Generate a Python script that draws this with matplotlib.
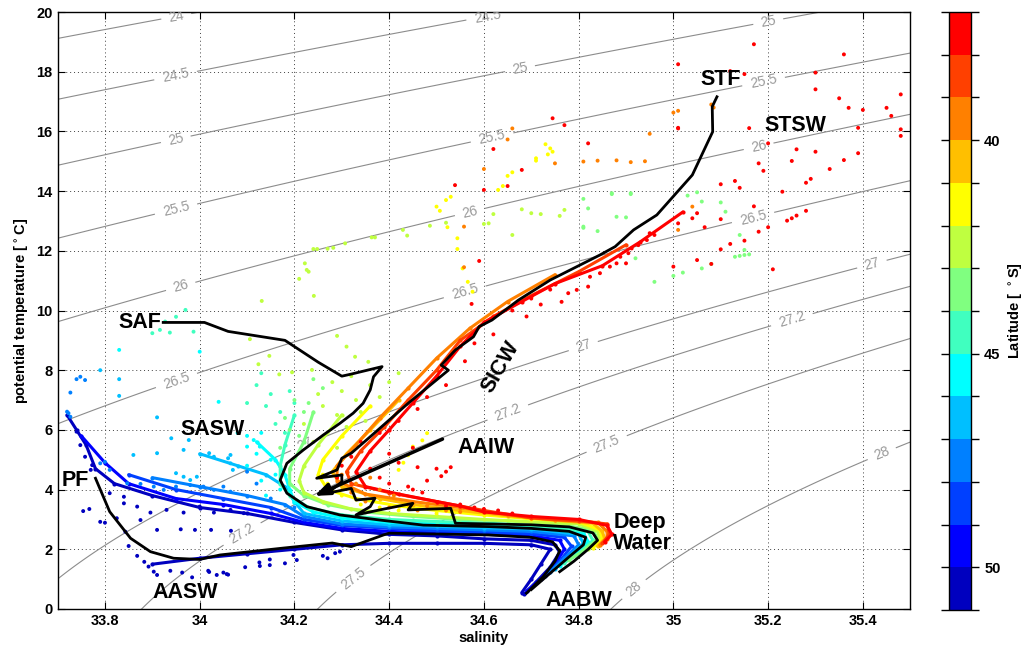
import numpy as np
import matplotlib
matplotlib.use('Agg')
import matplotlib.pyplot as plt
from matplotlib.colors import ListedColormap, BoundaryNorm

plt.rcParams['font.family'] = ['Liberation Sans', 'DejaVu Sans']
plt.rcParams['font.weight'] = 'bold'

# latitude colour bands (37..51 S), red = north, dark blue = south
lat_edges = np.arange(37, 52)
band_colors = ['#ff0000', '#ff4000', '#ff8000', '#ffbf00', '#ffff00', '#bfff40',
               '#80ff80', '#40ffbf', '#00ffff', '#00bfff', '#0080ff', '#0040ff',
               '#0000ff', '#0000bf']

# CTD profiles, one per latitude band (salinity, potential temperature)
profile_lat = [50.5, 50.5, 49.5, 48.5, 47.5, 46.5, 45.5, 44.5, 43.5, 42.5, 41.5, 40.5, 39.5, 38.5, 37.5]
profile_S = [
    [33.72, 33.74, 33.76, 33.78, 33.82, 33.9, 34.0, 34.1, 34.2, 34.3, 34.4, 34.5, 34.6, 34.7, 34.75, 34.76, 34.74, 34.71, 34.685],
    [33.9, 34.0, 34.1, 34.2, 34.3, 34.4, 34.5, 34.6, 34.7, 34.74, 34.72, 34.70, 34.68],
    [33.75, 33.8, 33.85, 33.95, 34.05, 34.15, 34.22, 34.3, 34.4, 34.5, 34.6, 34.7, 34.76, 34.77, 34.75, 34.72, 34.69],
    [33.85, 33.95, 34.05, 34.15, 34.22, 34.3, 34.4, 34.5, 34.6, 34.7, 34.77, 34.785, 34.76, 34.73],
    [33.9, 34.0, 34.1, 34.18, 34.22, 34.3, 34.4, 34.5, 34.6, 34.7, 34.79, 34.80, 34.77, 34.74],
    [34.0, 34.08, 34.14, 34.18, 34.2, 34.22, 34.3, 34.4, 34.5, 34.6, 34.7, 34.8, 34.81, 34.78, 34.75],
    [34.12, 34.16, 34.18, 34.19, 34.2, 34.24, 34.3, 34.4, 34.5, 34.6, 34.7, 34.81, 34.82, 34.79, 34.76],
    [34.2, 34.18, 34.17, 34.17, 34.19, 34.23, 34.3, 34.4, 34.5, 34.6, 34.7, 34.82, 34.83, 34.8, 34.77],
    [34.24, 34.22, 34.19, 34.19, 34.22, 34.27, 34.35, 34.45, 34.55, 34.65, 34.75, 34.83, 34.84, 34.81, 34.78],
    [34.3, 34.25, 34.22, 34.21, 34.22, 34.26, 34.32, 34.4, 34.5, 34.6, 34.7, 34.8, 34.84, 34.845, 34.82],
    [34.36, 34.3, 34.26, 34.25, 34.27, 34.33, 34.42, 34.5, 34.6, 34.7, 34.8, 34.845, 34.85, 34.83],
    [34.42, 34.36, 34.31, 34.28, 34.3, 34.38, 34.45, 34.55, 34.65, 34.75, 34.83, 34.85, 34.855, 34.84],
    [34.75, 34.65, 34.57, 34.5, 34.44, 34.38, 34.33, 34.29, 34.29, 34.35, 34.45, 34.55, 34.65, 34.75, 34.84, 34.86, 34.86, 34.845],
    [34.9, 34.8, 34.7, 34.62, 34.55, 34.5, 34.44, 34.39, 34.34, 34.31, 34.32, 34.4, 34.5, 34.6, 34.7, 34.8, 34.86, 34.865, 34.85],
    [35.02, 34.93, 34.85, 34.75, 34.68, 34.6, 34.55, 34.5, 34.45, 34.4, 34.36, 34.33, 34.35, 34.42, 34.5, 34.55, 34.6, 34.7, 34.8, 34.86, 34.87, 34.855],
]
profile_T = [
    [6.5, 6.0, 5.5, 4.7, 4.2, 3.8, 3.4, 3.2, 2.9, 2.65, 2.5, 2.45, 2.35, 2.3, 2.15, 1.9, 1.4, 0.9, 0.5],
    [1.5, 1.7, 1.85, 2.0, 2.15, 2.2, 2.2, 2.2, 2.15, 2.0, 1.5, 1.0, 0.55],
    [5.8, 4.9, 4.2, 3.7, 3.5, 3.2, 2.9, 2.7, 2.6, 2.55, 2.5, 2.45, 2.3, 2.0, 1.5, 1.0, 0.6],
    [4.5, 4.0, 3.7, 3.4, 3.0, 2.8, 2.7, 2.62, 2.58, 2.52, 2.4, 2.1, 1.6, 1.1],
    [4.4, 4.1, 3.8, 3.5, 3.1, 2.85, 2.75, 2.7, 2.65, 2.6, 2.45, 2.15, 1.7, 1.25],
    [5.2, 4.8, 4.5, 4.1, 3.6, 3.2, 2.95, 2.82, 2.77, 2.72, 2.68, 2.5, 2.2, 1.75, 1.35],
    [5.6, 5.0, 4.5, 4.0, 3.6, 3.25, 3.05, 2.9, 2.85, 2.8, 2.74, 2.55, 2.25, 1.8, 1.45],
    [6.5, 5.5, 4.8, 4.2, 3.8, 3.4, 3.15, 3.0, 2.93, 2.88, 2.8, 2.6, 2.3, 1.85, 1.55],
    [6.6, 5.6, 4.7, 4.2, 3.8, 3.5, 3.25, 3.1, 3.0, 2.95, 2.85, 2.65, 2.35, 1.95, 1.65],
    [6.5, 5.5, 4.8, 4.3, 3.9, 3.6, 3.35, 3.2, 3.1, 3.0, 2.92, 2.85, 2.6, 2.35, 2.0],
    [6.8, 5.8, 5.0, 4.5, 4.0, 3.7, 3.45, 3.3, 3.15, 3.02, 2.92, 2.65, 2.35, 2.05],
    [7.0, 6.0, 5.2, 4.6, 4.1, 3.7, 3.5, 3.3, 3.12, 2.97, 2.87, 2.6, 2.35, 2.1],
    [11.2, 10.3, 9.4, 8.4, 7.4, 6.4, 5.5, 4.8, 4.3, 3.85, 3.6, 3.4, 3.15, 2.98, 2.9, 2.6, 2.35, 2.15],
    [12.2, 11.3, 10.5, 9.8, 9.0, 8.0, 7.0, 6.1, 5.3, 4.6, 4.2, 3.9, 3.6, 3.3, 3.05, 2.95, 2.85, 2.5, 2.2],
    [13.3, 12.3, 11.5, 10.9, 10.3, 9.6, 8.8, 7.8, 6.9, 6.0, 5.3, 4.6, 4.1, 3.85, 3.6, 3.45, 3.25, 3.1, 3.0, 2.8, 2.5, 2.25],
]

# scattered single observations, grouped by latitude band
dblue_S = [33.868, 33.883, 33.892, 33.903, 33.91, 33.938, 33.963, 33.984, 34.02, 34.036, 34.05, 34.06,
           34.018, 34.057, 34.096, 34.127, 34.148, 34.18, 34.205, 34.26, 34.27, 34.286, 34.296, 34.198,
           34.148, 34.126, 33.85, 33.843, 33.79, 33.80, 33.754, 33.767, 33.91, 33.96, 33.99, 34.024, 34.066,
           33.81, 33.84, 33.868, 33.896, 33.93, 33.966, 34.0, 34.03, 34.065, 34.093, 33.825, 33.875, 33.84,
           33.77, 33.773, 33.758, 33.748, 33.74]
dblue_T = [1.78, 1.58, 1.42, 1.25, 1.14, 1.28, 1.22, 1.06, 1.24, 1.14, 1.22, 1.15,
           1.28, 1.17, 1.40, 1.44, 1.47, 1.53, 1.64, 1.78, 1.70, 1.87, 1.92, 1.81,
           1.66, 1.56, 2.11, 2.59, 2.92, 2.89, 3.28, 3.35, 2.65, 2.67, 2.65, 2.65, 2.62,
           3.88, 3.54, 3.43, 3.23, 3.32, 3.23, 3.43, 3.23, 3.32, 3.21, 3.04, 2.98, 3.76,
           4.66, 4.82, 5.1, 5.49, 5.94]
mblue_S = [33.74, 33.748, 33.758, 33.727, 33.727, 33.723, 33.72, 33.80, 33.79, 33.81, 33.847, 33.875,
           33.903, 33.924, 33.95, 33.98, 34.008, 34.03, 34.05, 34.065, 34.1, 34.12, 34.15, 34.2]
mblue_T = [7.70, 7.78, 7.67, 7.25, 6.44, 6.56, 6.61, 4.93, 4.88, 4.66, 4.21, 4.19,
           4.10, 3.99, 4.10, 4.15, 4.10, 3.99, 4.10, 3.93, 4.6, 4.2, 3.7, 3.4]
lblue_S = [33.79, 33.83, 33.83, 33.91, 33.94, 33.977, 33.966, 33.91, 33.86, 34.02, 34.03, 34.06, 34.065,
           34.07, 34.065, 33.95, 33.966, 33.98, 33.994]
lblue_T = [8.0, 7.70, 7.14, 6.42, 5.72, 5.66, 5.33, 5.22, 5.16, 5.22, 5.10, 5.05, 4.88,
           4.66, 5.16, 4.55, 4.43, 4.32, 4.43]
cyan_S = [33.83, 34.04, 34.10, 34.114, 34.127, 34.0, 34.10, 34.13, 34.08, 34.12, 34.15, 34.1, 34.16,
          34.13, 34.17, 34.14]
cyan_T = [8.68, 6.94, 5.44, 5.66, 5.44, 8.62, 5.8, 5.9, 5.9, 5.2, 5.0, 4.8, 4.5,
          4.3, 4.0, 3.8]
aqua_S = [33.9, 33.916, 33.937, 33.987, 33.97, 33.95, 33.927, 34.12, 34.15, 34.14, 34.17, 34.10, 34.16,
          34.13, 34.19, 34.18, 34.2]
aqua_T = [9.24, 9.35, 9.26, 9.29, 10.02, 9.79, 9.63, 7.5, 7.2, 6.8, 6.6, 6.9, 6.2,
          7.9, 7.3, 5.9, 6.9]
lgreen_S = [35.05, 35.06, 35.03, 35.10, 35.11, 35.08, 35.06, 35.02, 35.0, 35.14, 35.15, 34.91, 34.87, 34.81,
            34.84, 34.81, 34.96, 34.92, 34.82, 34.87, 34.91, 34.88, 34.90, 34.81, 35.13, 35.14, 35.15, 35.16,
            34.20, 34.22, 34.19, 34.23, 34.26, 34.18, 34.21, 34.17, 34.24]
lgreen_T = [13.96, 13.65, 13.85, 13.62, 13.31, 11.56, 11.41, 11.27, 11.16, 12.53, 12.03, 13.93, 13.93, 13.74,
            12.66, 12.77, 10.96, 11.75, 13.42, 13.9, 13.9, 13.14, 13.12, 12.81, 11.8, 11.83, 11.86, 11.88,
            7.0, 6.6, 6.0, 6.9, 7.4, 6.4, 5.8, 5.4, 7.7]
ygreen_S = [34.77, 34.76, 34.72, 34.70, 34.62, 34.61, 34.60, 34.68, 34.66, 34.222, 34.226, 34.23, 34.21,
            34.241, 34.131, 34.24, 34.248, 34.27, 34.282, 34.307, 34.363, 34.37, 34.429, 34.438, 34.486,
            34.52, 34.29, 34.31, 34.328, 34.356, 34.124, 34.147, 34.168, 34.195, 34.237, 34.106,
            34.28, 34.30, 34.33, 34.26, 34.29, 34.34, 34.31, 34.27, 34.24, 34.36, 34.38, 34.35, 34.22, 34.25,
            34.32, 34.4, 34.42, 34.29]
ygreen_T = [13.37, 13.17, 13.23, 13.26, 13.23, 12.92, 12.9, 13.39, 12.53, 11.58, 11.36, 11.3, 11.06,
            10.49, 10.32, 12.06, 12.06, 12.07, 12.1, 12.25, 12.45, 12.45, 12.7, 12.51, 12.84,
            12.94, 9.15, 8.79, 8.45, 8.28, 8.20, 8.48, 7.86, 7.93, 8.01, 9.04,
            7.6, 7.3, 7.0, 6.8, 6.5, 6.6, 6.1, 5.9, 5.6, 7.5, 7.1, 6.3, 6.2, 7.2,
            7.8, 7.6, 7.9, 5.4]
yellow_S = [34.50, 34.507, 34.52, 34.523, 34.544, 34.544, 34.555, 34.566, 34.576, 34.53, 34.73, 34.74,
            34.745, 34.735, 34.71, 34.71, 34.66, 34.65, 34.64, 34.63, 34.42, 34.43, 34.44, 34.45, 34.47, 34.48,
            34.3, 34.34, 34.38, 34.27, 34.26, 34.42, 34.5]
yellow_T = [13.48, 13.34, 13.7, 12.79, 12.42, 12.06, 11.41, 10.96, 10.63, 13.81, 15.57, 15.43,
            15.32, 15.23, 15.1, 15.02, 14.63, 14.51, 14.17, 14.04, 4.66, 4.9, 5.15, 5.44, 5.65, 5.89,
            3.8, 3.5, 3.4, 4.2, 4.5, 3.3, 3.2]
orange_S = [34.81, 34.84, 34.88, 34.91, 34.94, 34.95, 35.0, 35.01, 34.66, 34.65, 34.75, 34.60, 34.558,
            34.558, 35.04, 35.01, 35.08, 35.085,
            34.30, 34.33, 34.36, 34.32, 34.38, 34.41, 34.35, 34.44, 34.48, 34.52, 34.55, 34.40, 34.46]
orange_T = [14.99, 15.02, 15.03, 14.97, 15.0, 15.92, 16.63, 16.69, 16.1, 15.73, 14.93, 14.74, 12.81,
            11.45, 13.48, 12.7, 16.9, 16.8,
            4.5, 4.2, 4.4, 3.9, 4.0, 3.8, 3.6, 3.5, 3.45, 3.3, 3.25, 3.4, 3.3]
red_S = [35.17, 35.36, 35.30, 35.12, 35.15, 35.30, 35.35, 35.37, 35.40, 35.45, 35.48, 35.46, 35.48, 35.48,
         35.39, 35.16, 35.20, 35.26, 35.30, 35.36, 35.39, 35.33, 35.18, 35.19, 35.29, 35.28, 35.23, 35.13,
         35.10, 35.14, 35.17, 35.24, 35.25, 35.26, 35.28, 35.20, 35.18, 35.01, 35.01, 35.10, 35.12, 35.15,
         35.10, 35.08, 35.05, 35.00, 35.21, 35.25,
         35.01, 34.745, 34.77, 34.62, 34.82, 34.68, 34.65, 34.60, 34.539, 34.59, 34.574,
         34.888, 34.905, 34.912, 34.926, 34.944, 34.95, 34.96, 34.90, 34.88, 34.866, 34.845, 34.824, 34.82,
         34.796, 34.778, 34.764, 35.05, 35.04, 35.01, 35.066,
         34.50, 34.52, 34.51, 34.48, 34.46, 34.44, 34.42, 34.40, 34.38, 34.45, 34.47, 34.53,
         34.30, 34.32, 34.29, 34.36, 34.40, 34.45, 34.55, 34.58, 34.60, 34.63, 34.66, 34.52, 34.34, 34.38,
         34.42, 34.46, 34.48, 34.52, 34.56, 34.58, 34.62, 34.66, 34.70, 34.72, 34.74, 34.69]
red_T = [18.92, 18.58, 17.97, 18.02, 17.92, 17.41, 17.11, 16.79, 16.72, 16.79, 17.24, 16.52, 16.07, 15.85,
         16.12, 16.11, 15.60, 15.40, 15.32, 15.04, 15.27, 14.74, 14.93, 14.68, 14.41, 14.28, 13.98, 14.34,
         14.23, 14.11, 13.49, 13.01, 13.09, 13.18, 13.34, 12.79, 12.64, 18.25, 16.12, 13.06, 12.23, 12.34,
         12.05, 11.56, 11.69, 11.47, 11.38, 15.01,
         16.1, 16.44, 16.21, 15.41, 15.6, 14.71, 14.17, 14.04, 14.2, 11.66, 10.22,
         11.8, 11.92, 12.08, 12.19, 12.36, 12.59, 12.53, 11.58, 11.58, 11.47, 11.25, 11.13, 10.8,
         10.69, 10.58, 10.29, 13.26, 13.09, 12.92, 12.79,
         4.7, 4.6, 4.45, 4.3, 4.75, 4.1, 4.9, 5.2, 4.4, 5.4, 3.9, 4.75,
         4.8, 5.1, 4.4, 4.7, 4.2, 4.0, 3.5, 3.4, 3.35, 3.3, 3.2, 3.45, 5.6, 5.9,
         6.3, 6.7, 7.1, 7.5, 8.3, 8.9, 9.2, 10.0, 10.4, 10.2, 10.7, 9.8]

# front profiles (black lines)
stf_S = [35.092, 35.082, 35.083, 35.04, 34.965, 34.916, 34.877, 34.845, 34.74, 34.673, 34.617, 34.59,
         34.578, 34.54, 34.51, 34.525, 34.44, 34.40, 34.36, 34.32, 34.30, 34.29, 34.247, 34.30, 34.30,
         34.27, 34.32, 34.33, 34.37, 34.36, 34.33, 34.38, 34.45, 34.44, 34.53, 34.54, 34.61, 34.70, 34.78,
         34.83, 34.84, 34.82, 34.79, 34.76]
stf_T = [17.16, 16.83, 15.99, 14.54, 13.2, 12.7, 12.14, 11.86, 11.02, 10.35, 9.68, 9.46,
         9.12, 8.68, 8.17, 8.0, 6.89, 6.33, 5.77, 5.22, 5.05, 4.66, 4.38, 4.49, 4.26,
         3.88, 4.04, 3.65, 3.71, 3.43, 3.15, 3.32, 3.54, 3.32, 3.37, 2.87, 2.85, 2.82, 2.75,
         2.55, 2.3, 2.0, 1.6, 1.25]
saf_S = [33.923, 34.01, 34.06, 34.18, 34.25, 34.30, 34.32, 34.385, 34.367, 34.36, 34.345, 34.324, 34.296,
         34.261, 34.219, 34.184, 34.17, 34.184, 34.226, 34.296, 34.38, 34.472, 34.61, 34.70, 34.78, 34.815,
         34.81, 34.78, 34.74, 34.70]
saf_T = [9.6, 9.6, 9.3, 9.0, 8.27, 7.8, 7.87, 8.12, 7.78, 7.34, 6.89, 6.56, 6.22,
         5.83, 5.33, 4.88, 4.32, 3.88, 3.43, 3.15, 2.98, 2.81, 2.76, 2.7, 2.6, 2.4,
         2.15, 1.75, 1.2, 0.65]
pf_S = [33.78, 33.81, 33.854, 33.896, 33.945, 34.0, 34.043, 34.176, 34.28, 34.32, 34.388, 34.40, 34.61,
        34.70, 34.745, 34.76, 34.75, 34.725, 34.69]
pf_T = [4.38, 3.26, 2.37, 1.92, 1.70, 1.66, 1.81, 2.04, 2.21, 2.09, 2.48, 2.54, 2.48,
        2.4, 2.25, 1.95, 1.6, 1.08, 0.53]

density_levels = [24, 24.5, 25, 25.5, 26, 26.5, 27, 27.2, 27.5, 28]
label_pos = [(33.95, 19.9), (33.95, 17.8), (34.61, 19.7), (33.95, 15.7), (34.68, 17.8), (35.2, 19.7),
             (33.95, 13.4), (34.62, 15.6), (35.19, 17.7), (33.96, 10.8), (34.57, 13.3), (35.18, 15.5),
             (33.95, 7.7), (34.56, 10.6), (35.17, 13.0), (34.22, 5.6), (34.81, 8.8), (35.42, 11.5),
             (34.09, 2.5), (34.65, 6.6), (35.25, 9.7), (34.32, 1.1), (34.86, 5.5), (34.92, 0.6), (35.44, 5.2)]


def sigma0(S, T):
    # UNESCO 1980 equation of state at the surface
    rw = (999.842594 + 6.793952e-2 * T - 9.095290e-3 * T**2 + 1.001685e-4 * T**3
          - 1.120083e-6 * T**4 + 6.536332e-9 * T**5)
    A = 0.824493 - 4.0899e-3 * T + 7.6438e-5 * T**2 - 8.2467e-7 * T**3 + 5.3875e-9 * T**4
    B = -5.72466e-3 + 1.0227e-4 * T - 1.6546e-6 * T**2
    return rw + A * S + B * S**1.5 + 4.8314e-4 * S**2 - 1000.0


cmap = ListedColormap(band_colors)
norm = BoundaryNorm(lat_edges, cmap.N)

fig = plt.figure(figsize=(10.32, 6.53), dpi=100)
ax = fig.add_axes([0.0558, 0.0674, 0.8262, 0.9142])
cax = fig.add_axes([0.9196, 0.0658, 0.0213, 0.9158])

sg, tg = np.meshgrid(np.linspace(33.6, 35.6, 300), np.linspace(-1, 21, 300))
cs = ax.contour(sg, tg, sigma0(sg, tg), levels=density_levels, colors='#8c8c8c', linewidths=0.8, zorder=1)
lbl = ax.clabel(cs, fmt='%g', fontsize=10, manual=label_pos, inline=True, inline_spacing=6)
for t in lbl:
    t.set_color('#9a9a9a')
    t.set_fontweight('normal')

for lat, s, t in zip(profile_lat, profile_S, profile_T):
    c = cmap(norm(lat))
    ax.plot(s, t, '-', color=c, lw=2.2, zorder=3, solid_capstyle='round', solid_joinstyle='round')
    ax.plot(s, t, 'o', color=c, ms=3, mec='none', zorder=3)

groups = [(50.5, dblue_S, dblue_T), (47.5, mblue_S, mblue_T), (46.5, lblue_S, lblue_T),
          (45.5, cyan_S, cyan_T), (44.5, aqua_S, aqua_T), (43.5, lgreen_S, lgreen_T),
          (42.5, ygreen_S, ygreen_T), (41.5, yellow_S, yellow_T), (39.5, orange_S, orange_T),
          (37.5, red_S, red_T)]
for lat, s, t in groups:
    ax.scatter(s, t, s=8, color=cmap(norm(lat)), edgecolors='none', zorder=4)

for s, t in [(stf_S, stf_T), (saf_S, saf_T), (pf_S, pf_T)]:
    ax.plot(s, t, color='k', lw=2.0, zorder=5)

ax.annotate('', xy=(34.237, 3.75), xytext=(34.518, 5.73),
            arrowprops=dict(arrowstyle='-|>,head_length=0.9,head_width=0.35', color='k', lw=2.5), zorder=6)

lab_kw = dict(fontsize=15.5, fontweight='bold', zorder=7)
ax.text(35.10, 17.75, 'STF', ha='center', va='center', **lab_kw)
ax.text(35.257, 16.2, 'STSW', ha='center', va='center', **lab_kw)
ax.text(33.874, 9.6, 'SAF', ha='center', va='center', **lab_kw)
ax.text(34.028, 6.0, 'SASW', ha='center', va='center', **lab_kw)
ax.text(33.737, 4.32, 'PF', ha='center', va='center', **lab_kw)
ax.text(33.97, 0.55, 'AASW', ha='center', va='center', **lab_kw)
ax.text(34.635, 8.1, 'SICW', ha='center', va='center', rotation=60, **lab_kw)
ax.text(34.544, 5.4, 'AAIW', ha='left', va='center', **lab_kw)
ax.text(34.873, 2.55, 'Deep\nWater', ha='left', va='center', linespacing=1.0, **lab_kw)
ax.text(34.80, 0.3, 'AABW', ha='center', va='center', **lab_kw)

ax.set_xlim(33.7, 35.5)
ax.set_ylim(0, 20)
ax.set_xticks(np.arange(33.8, 35.41, 0.2))
ax.set_xticklabels(['33.8', '34', '34.2', '34.4', '34.6', '34.8', '35', '35.2', '35.4'])
ax.set_yticks(np.arange(0, 21, 2))
ax.tick_params(direction='in', top=True, right=True, length=5, width=0.8, labelsize=10.5)
for lab in ax.get_xticklabels() + ax.get_yticklabels():
    lab.set_fontweight('bold')
ax.grid(True, linestyle=(0, (1, 3)), color='0.25', lw=0.7, zorder=0)
ax.set_axisbelow(True)
for sp in ax.spines.values():
    sp.set_linewidth(1.0)
ax.set_xlabel('salinity', fontsize=10.5, fontweight='bold', labelpad=2)
ax.set_ylabel(r'potential temperature [$^\circ$C]', fontsize=10.5, fontweight='bold', labelpad=4)

cb = fig.colorbar(plt.cm.ScalarMappable(norm=norm, cmap=cmap), cax=cax, drawedges=True)
cb.outline.set_linewidth(1.0)
cb.dividers.set_linewidth(1.0)
cax.invert_yaxis()
cb.set_ticks([40, 45, 50])
cax.set_yticks(lat_edges, minor=True)
cax.tick_params(which='both', direction='out', left=True, right=True, length=6, width=1.0, labelsize=10.5)
for lab in cax.get_yticklabels():
    lab.set_fontweight('bold')
cb.set_label(r'Latitude [ $^\circ$S]', fontsize=10.5, fontweight='bold', labelpad=4)

fig.savefig('out.png', dpi=100)
